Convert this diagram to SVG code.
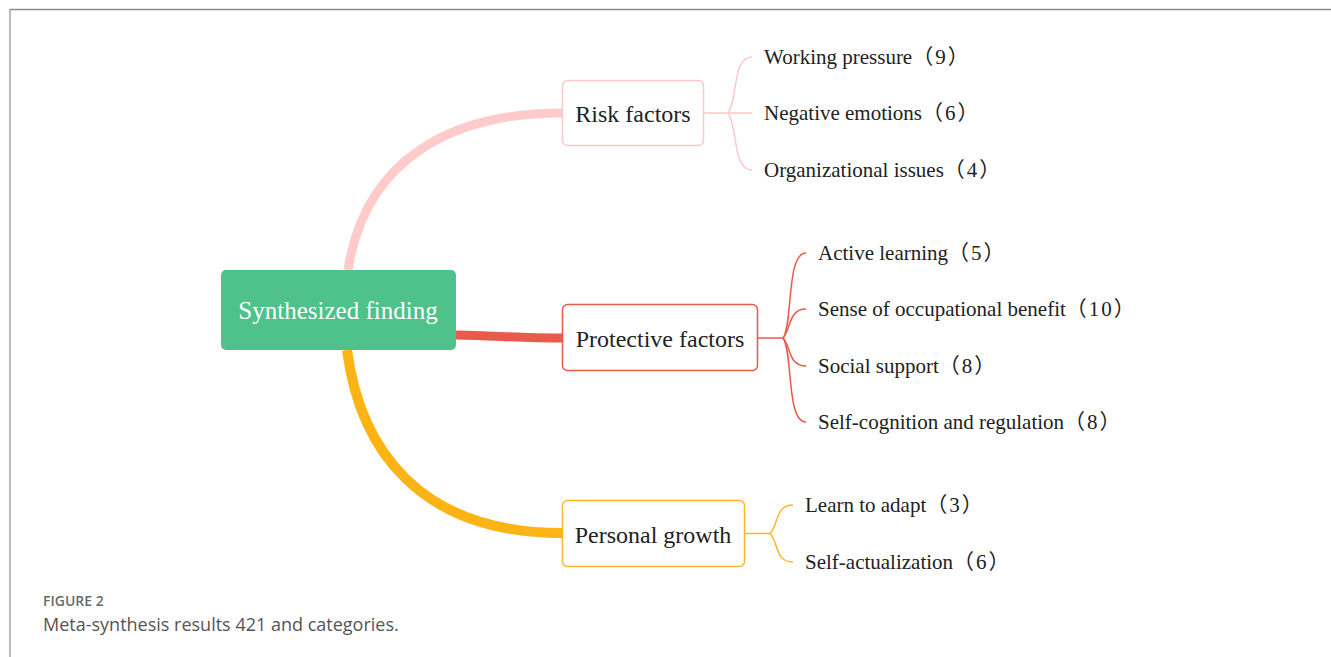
<svg xmlns="http://www.w3.org/2000/svg" width="1331" height="657" viewBox="0 0 1331 657">
  <style>
    .node-text { font-family: "Liberation Serif", "Times New Roman", "Noto Sans CJK SC", serif; fill: #222; }
    .main { font-size: 24px; text-anchor: middle; }
    .leaf { font-size: 21px; }
    .num { letter-spacing: 2px; }
    .root-text { font-family: "Liberation Serif", "Times New Roman", serif; font-size: 25px; fill: #fff; text-anchor: middle; }
    .trunk { fill: none; stroke-linecap: butt; }
    .twig { fill: none; stroke-width: 1.5; }
    .cap { font-family: "Open Sans", "Liberation Sans", sans-serif; }
  </style>

  <rect x="0" y="0" width="1331" height="657" fill="#fff"/>
  <!-- frame lines -->
  <line x1="10" y1="9.5" x2="1331" y2="9.5" stroke="#8a8a8a" stroke-width="1.5"/>
  <line x1="10" y1="9" x2="10" y2="657" stroke="#8a8a8a" stroke-width="1.2"/>

  <g id="connectors">
    <!-- trunks from the root -->
    <path class="trunk" d="M348,270 C365,160 450,113 562,113" stroke="#ffcaca" stroke-width="9"/>
    <path class="trunk" d="M456,335 C500,336 520,338 562,338" stroke="#e85a4c" stroke-width="9"/>
    <path class="trunk" d="M347,350 C360,450 420,533 562,533" stroke="#fbb414" stroke-width="10"/>

    <!-- Risk factors braces -->
    <g stroke="#ffc8c8">
      <path class="twig" d="M704,113 H728"/>
      <path class="twig" d="M728,113 C738,100 732,57 752,57"/>
      <path class="twig" d="M728,113 H752"/>
      <path class="twig" d="M728,113 C738,126 732,170 752,170"/>
    </g>
    <!-- Protective factors braces -->
    <g stroke="#e85a4c">
      <path class="twig" d="M758,338 H783"/>
      <path class="twig" d="M783,338 C793,325 786,253 806,253"/>
      <path class="twig" d="M783,338 C791,330 788,309 806,309"/>
      <path class="twig" d="M783,338 C791,346 788,366 806,366"/>
      <path class="twig" d="M783,338 C793,351 786,422 806,422"/>
    </g>
    <!-- Personal growth braces -->
    <g stroke="#fbb630">
      <path class="twig" d="M745,533.5 H770"/>
      <path class="twig" d="M770,533.5 C779,524 775,505 793,505"/>
      <path class="twig" d="M770,533.5 C779,543 775,562 793,562"/>
    </g>
  </g>

  <g id="root">
    <rect x="221" y="270" width="235" height="80" rx="5" fill="#4fc18b"/>
    <text class="root-text" x="338" y="319">Synthesized finding</text>
  </g>

  <g id="risk-factors">
    <rect x="562.5" y="80.5" width="141" height="65" rx="5" fill="#fff" stroke="#ffc8c8" stroke-width="1.5"/>
    <text class="node-text main" x="633" y="122">Risk factors</text>
  </g>
  <g id="risk-leaves">
    <text class="node-text leaf" x="764" y="64">Working pressure<tspan class="num">（9）</tspan></text>
    <text class="node-text leaf" x="764" y="120">Negative emotions<tspan class="num">（6）</tspan></text>
    <text class="node-text leaf" x="764" y="177">Organizational issues<tspan class="num">（4）</tspan></text>
  </g>

  <g id="protective-factors">
    <rect x="562.5" y="304.5" width="195" height="66" rx="5" fill="#fff" stroke="#e85a4c" stroke-width="1.5"/>
    <text class="node-text main" x="660" y="347">Protective factors</text>
  </g>
  <g id="protective-leaves">
    <text class="node-text leaf" x="818" y="260">Active learning<tspan class="num">（5）</tspan></text>
    <text class="node-text leaf" x="818" y="316">Sense of occupational benefit<tspan class="num">（10）</tspan></text>
    <text class="node-text leaf" x="818" y="373">Social support<tspan class="num">（8）</tspan></text>
    <text class="node-text leaf" x="818" y="429">Self-cognition and regulation<tspan class="num">（8）</tspan></text>
  </g>

  <g id="personal-growth">
    <rect x="562.5" y="500.5" width="182" height="66" rx="5" fill="#fff" stroke="#fbb630" stroke-width="1.5"/>
    <text class="node-text main" x="653" y="543">Personal growth</text>
  </g>
  <g id="growth-leaves">
    <text class="node-text leaf" x="805" y="512">Learn to adapt<tspan class="num">（3）</tspan></text>
    <text class="node-text leaf" x="805" y="569">Self-actualization<tspan class="num">（6）</tspan></text>
  </g>

  <g id="caption">
    <text class="cap" x="43" y="606" font-size="14" font-weight="600" fill="#6a6a6a">FIGURE 2</text>
    <text class="cap" x="43" y="631" font-size="18" fill="#555">Meta-synthesis results 421 and categories.</text>
  </g>
</svg>
